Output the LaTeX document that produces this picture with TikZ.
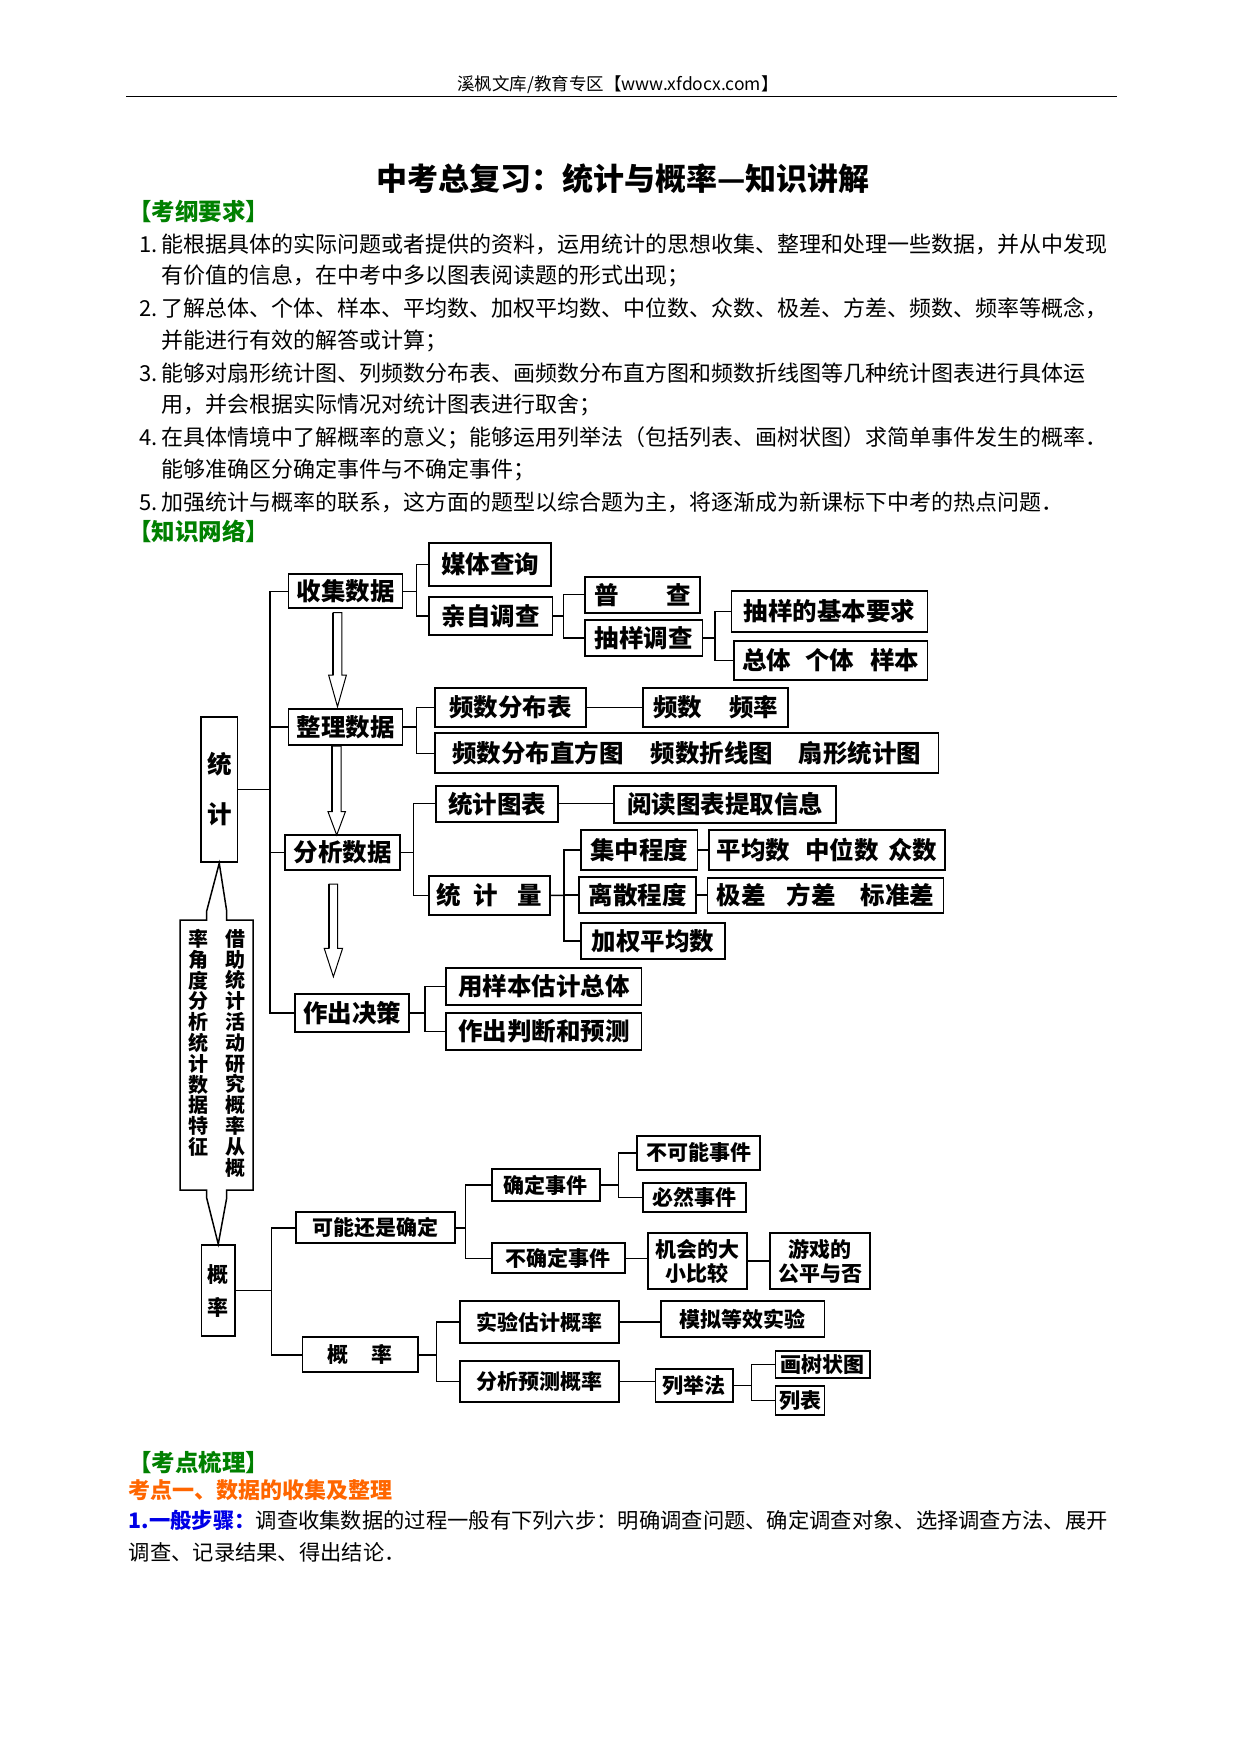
\documentclass[tikz,border=0pt]{standalone}
\usepackage{fontspec}
\setmainfont{Noto Sans CJK SC}
\newfontfamily\cjk{Noto Sans CJK SC}
\definecolor{hgreen}{RGB}{0,128,0}
\definecolor{horange}{RGB}{255,102,0}
\definecolor{hblue}{RGB}{0,0,230}
\tikzset{
  bx/.style={draw, line width=1.8pt, inner sep=0pt, font=\cjk\fontsize{24.5}{28}\selectfont\bfseries},
  bxs/.style={bx, font=\cjk\fontsize{21}{24}\selectfont\bfseries},
  ln/.style={line width=1.4pt},
  txt/.style={inner sep=0pt, anchor=west, font=\cjk\fontsize{22}{26}\selectfont},
  headg/.style={inner sep=0pt, anchor=west, text=hgreen, font=\cjk\fontsize{23.5}{26}\selectfont\bfseries},
  colt/.style={inner sep=0pt, anchor=north, align=center, font=\cjk\fontsize{20}{20.8}\selectfont\bfseries},
  harr/.style={line width=1pt},
}
\newcommand\mybox[7][bx]{%
  \pgfmathsetmacro\bxX{(#3+#5)/2}%
  \pgfmathsetmacro\bxY{(#4+#6)/2}%
  \pgfmathsetmacro\bxW{#5-#3}%
  \pgfmathsetmacro\bxH{#6-#4}%
  \node[#1, minimum width=\bxW pt, minimum height=\bxH pt] (#2) at (\bxX,\bxY) {#7};}
\newcommand\harrow[5]{%
  \draw[harr] ({#1-4.3},{#2}) -- ({#1+4.3},{#2}) -- ({#1+4.3},{#3}) -- ({#1+#5},{#3}) -- ({#1},{#4}) -- ({#1-#5},{#3}) -- ({#1-4.3},{#3}) -- cycle;
  \draw[line width=2pt] ({#1-4.3},{#2}) -- ({#1-4.3},{#3});}
\begin{document}
\begin{tikzpicture}[x=1pt,y=-1pt]
\useasboundingbox (0,0) rectangle (1240,1754);
\fill[white] (0,0) rectangle (1240,1754);

% header
\node[inner sep=0pt, font=\cjk\fontsize{17.5}{20}\selectfont] (hd) at (618,85) {溪枫文库/教育专区【www.xfdocx.com】};
\draw[line width=1pt] (126.4,96) -- (1116.8,96);
\node[inner sep=0pt, font=\cjk\fontsize{31}{34}\selectfont\bfseries] (ttl) at (623,179) {中考总复习：统计与概率—知识讲解};

\node[headg] (kg) at (128,211.7) {【考纲要求】};
\node[txt] (l1) at (139,244) {1.\hspace{4pt}能根据具体的实际问题或者提供的资料，运用统计的思想收集、整理和处理一些数据，并从中发现};
\node[txt] (l2) at (161.7,276) {有价值的信息，在中考中多以图表阅读题的形式出现；};
\node[txt] (l3) at (139,308.3) {2.\hspace{4pt}了解总体、个体、样本、平均数、加权平均数、中位数、众数、极差、方差、频数、频率等概念，};
\node[txt] (l4) at (161.7,341) {并能进行有效的解答或计算；};
\node[txt] (l5) at (139,373.3) {3.\hspace{4pt}能够对扇形统计图、列频数分布表、画频数分布直方图和频数折线图等几种统计图表进行具体运};
\node[txt] (l6) at (161.7,405) {用，并会根据实际情况对统计图表进行取舍；};
\node[txt] (l7) at (139,438.3) {4.\hspace{4pt}在具体情境中了解概率的意义；能够运用列举法（包括列表、画树状图）求简单事件发生的概率．};
\node[txt] (l8) at (161.7,470) {能够准确区分确定事件与不确定事件；};
\node[txt] (l9) at (139,502.5) {5.\hspace{4pt}加强统计与概率的联系，这方面的题型以综合题为主，将逐渐成为新课标下中考的热点问题．};
\node[headg] (zw) at (128,531.7) {【知识网络】};

% ---------- statistics ----------
\mybox[bx,align=center,font=\cjk\fontsize{24.5}{50}\selectfont\bfseries]{tj}{201}{716.7}{237.5}{862.3}{统\\计}
\mybox{sj}{288.5}{574.3}{402.5}{608.3}{收集数据}
\mybox{mt}{429}{543.3}{551}{586}{媒体查询}
\mybox{qz}{429}{597.3}{552.5}{635}{亲自调查}
\mybox{pc}{585}{576.7}{700}{612.7}{普\hspace{48pt}查}
\mybox{cy}{585}{620}{702.5}{656}{抽样调查}
\mybox{yq}{731.5}{590.7}{927.5}{632.3}{抽样的基本要求}
\mybox{zt}{734}{640.7}{927.5}{680}{总体\hspace{14pt}个体\hspace{16pt}样本}
\mybox{zl}{288.5}{709.3}{402.5}{745}{整理数据}
\mybox{fb}{435}{687.7}{586}{726.7}{频数分布表}
\mybox{fl}{643}{687.7}{788}{726.7}{频数\hspace{27pt}频率}
\mybox{tb}{435}{733.3}{938.5}{773.3}{频数分布直方图\hspace{27pt}频数折线图\hspace{26pt}扇形统计图}
\mybox{fx}{285}{835}{400}{870}{分析数据}
\mybox{tt}{436}{785.7}{558}{821.7}{统计图表}
\mybox{yd}{614}{785.7}{836}{822.7}{阅读图表提取信息}
\mybox{jz}{581}{830}{697.5}{870}{集中程度}
\mybox{pj}{709}{830}{945}{870}{平均数\hspace{15pt}中位数\hspace{10pt}众数}
\mybox{tl}{429}{875.7}{550}{915}{统\hspace{12pt}计\hspace{20pt}量}
\mybox{ls}{579}{876.7}{696}{913.3}{离散程度}
\mybox{jc}{707.5}{877.7}{943.5}{913.3}{极差\hspace{21pt}方差\hspace{25pt}标准差}
\mybox{jq}{581}{923.3}{725}{959}{加权平均数}
\mybox{yy}{446}{968.3}{641.5}{1005}{用样本估计总体}
\mybox{pd}{446}{1013.3}{641.5}{1050}{作出判断和预测}
\mybox{jd}{295}{994.3}{409}{1031.7}{作出决策}

\coordinate (T) at (270,789.5);
\draw[ln] (tj.east) -- (T);
\draw[ln] (sj.west) -| (T) |- (jd.west);
\draw[ln] (zl.west) -- (zl.west -| T);
\draw[ln] (fx.west) -- (fx.west -| T);

\coordinate (t1) at (416.5,591.3);
\draw[ln] (sj.east) -- (t1);
\draw[ln] (mt.west) -| (t1) |- (qz.west);
\coordinate (t2) at (563.5,616.15);
\draw[ln] (qz.east) -- (t2);
\draw[ln] (pc.west) -| (t2) |- (cy.west);
\coordinate (t3) at (715,638);
\draw[ln] (cy.east) -- (t3);
\draw[ln] (yq.west) -| (t3) |- (zt.west);
\coordinate (t4) at (416.5,727.15);
\draw[ln] (zl.east) -- (t4);
\draw[ln] (fb.west) -| (t4) |- (tb.west);
\draw[ln] (fb.east) -- (fl.west);
\coordinate (t5) at (413.5,852.5);
\draw[ln] (fx.east) -- (t5);
\draw[ln] (tt.west) -| (t5) |- (tl.west);
\draw[ln] (tt.east) -- (tt.east -| yd.west);
\coordinate (t6) at (564,895.35);
\draw[ln] (tl.east) -- (t6);
\draw[ln] (jz.west) -| (t6) |- (jq.west);
\draw[ln] (ls.west) -- (ls.west -| t6);
\draw[ln] (jz.east) -- (pj.west);
\draw[ln] (ls.east) -- (ls.east -| jc.west);
\coordinate (t7) at (425,1013);
\draw[ln] (jd.east) -- (t7);
\draw[ln] (yy.west) -| (t7) |- (pd.west);

% hollow arrows
\harrow{337.5}{612.7}{675}{706.7}{8.9}
\harrow{336.7}{746}{811.7}{835}{8.7}
\harrow{333.4}{884}{948.3}{976.7}{9.2}

% ---------- probability ----------
\mybox[bxs,align=center,font=\cjk\fontsize{21}{33}\selectfont\bfseries]{gl}{201.5}{1245}{235}{1336}{概\\率}
\mybox[bxs]{kn}{296}{1212.3}{454.8}{1243.3}{可能还是确定}
\mybox[bxs]{qd}{491.7}{1169.3}{600}{1201}{确定事件}
\mybox[bxs]{bk}{637}{1136}{760}{1170}{不可能事件}
\mybox[bxs]{br}{643}{1182.7}{746}{1212.3}{必然事件}
\mybox[bxs]{bq}{491.7}{1243.3}{624.6}{1273.3}{不确定事件}
\mybox[bxs,align=center]{jh}{647.7}{1233.3}{747}{1289}{机会的大\\小比较}
\mybox[bxs,align=center]{yx}{770}{1233.3}{870}{1289}{游戏的\\公平与否}
\mybox[bxs]{sy}{459.8}{1301}{618.6}{1343.3}{实验估计概率}
\mybox[bxs]{mn}{660.6}{1301}{824.5}{1337.3}{模拟等效实验}
\mybox[bxs]{gb}{302.5}{1337.3}{417.8}{1372.3}{概\hspace{23pt}率}
\mybox[bxs]{fy}{459.8}{1361}{618.6}{1402.3}{分析预测概率}
\mybox[bxs]{lj}{655.5}{1369}{733}{1402.3}{列举法}
\mybox[bxs]{hs}{775.5}{1350.7}{870}{1378.3}{画树状图}
\mybox[bxs]{lb}{775.5}{1386}{824.5}{1415}{列表}

\coordinate (P) at (271.5,1290.5);
\draw[ln] (gl.east) -- (P);
\draw[ln] (kn.west) -| (P) |- (gb.west);
\coordinate (K) at (465.4,1227.8);
\draw[ln] (kn.east) -- (K);
\draw[ln] (qd.west) -| (K) |- (bq.west);
\coordinate (Q) at (618.6,1185.15);
\draw[ln] (qd.east) -- (Q);
\draw[ln] (bk.west) -| (Q) |- (br.west);
\draw[ln] (bq.east) -- (bq.east -| jh.west);
\draw[ln] (jh.east) -- (yx.west);
\coordinate (G) at (436.3,1354.8);
\draw[ln] (gb.east) -- (G);
\draw[ln] (sy.west) -| (G) |- (fy.west);
\draw[ln] (sy.east) -- (sy.east -| mn.west);
\draw[ln] (fy.east) -- (fy.east -| lj.west);
\coordinate (L) at (751.5,1385.65);
\draw[ln] (lj.east) -- (L);
\draw[ln] (hs.west) -| (L) |- (lb.west);

% double arrow callout between 统计 and 概率
\draw[line width=1.5pt, line join=miter] (tj.south) -- (226.7,911) -- (226.7,920) -- (253,920) -- (253,1190) -- (226.7,1190) -- (226.7,1198) -- (gl.north) -- (206.7,1198) -- (206.7,1190) -- (180,1190) -- (180,920) -- (206.7,920) -- (206.7,911) -- cycle;
\node[colt] (c1) at (235,929) {借\\助\\统\\计\\活\\动\\研\\究\\概\\率\\从\\概};
\node[colt] (c2) at (198.3,929) {率\\角\\度\\分\\析\\统\\计\\数\\据\\特\\征};

% bottom text
\node[headg] (kd) at (128,1462.5) {【考点梳理】};
\node[inner sep=0pt, anchor=west, text=horange, font=\cjk\fontsize{22}{24}\selectfont\bfseries] (k1) at (128.6,1490) {考点一、数据的收集及整理};
\node[txt, font=\cjk\fontsize{21.3}{24}\selectfont] (b1) at (128.6,1520) {{\color{hblue}\bfseries 1.一般步骤：}调查收集数据的过程一般有下列六步：明确调查问题、确定调查对象、选择调查方法、展开};
\node[txt, font=\cjk\fontsize{21.3}{24}\selectfont] (b2) at (128.6,1552.5) {调查、记录结果、得出结论．};
\end{tikzpicture}
\end{document}
